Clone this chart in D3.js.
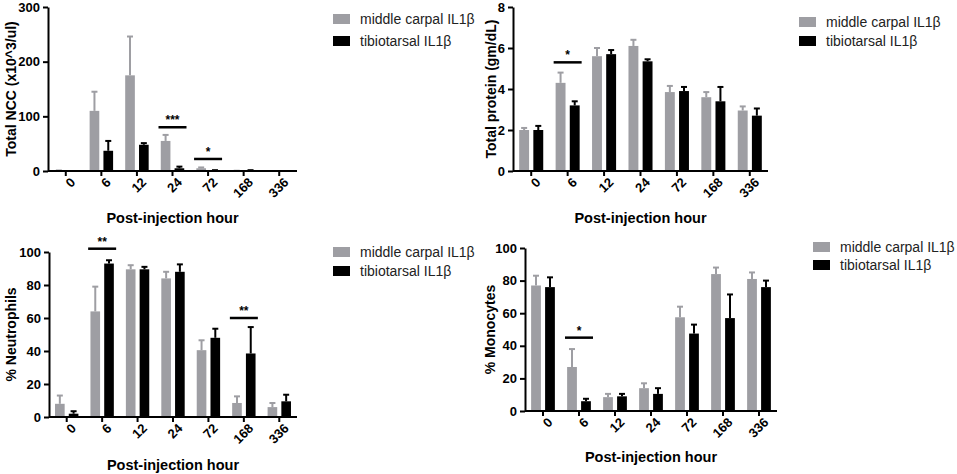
<!DOCTYPE html>
<html>
<head>
<meta charset="utf-8">
<script src="https://cdn.jsdelivr.net/npm/d3@7"></script>
<style>
  body { margin: 0; background: #fff; }
  svg { font-family: "Liberation Sans", Arial, sans-serif; }
  .tick text { font-weight: bold; font-size: 13px; fill: #000; }
  .axis path, .axis line { stroke: #000; stroke-width: 2px; }
</style>
</head>
<body>
<svg id="chart" width="957" height="474"></svg>
<script>
// categories
var hours = ["0", "6", "12", "24", "72", "168", "336"];
var groups = ["middle carpal IL1\u03b2", "tibiotarsal IL1\u03b2"];

// Total NCC (x10^3/ul)
var nccCarpal = [0.5, 110, 175, 55, 5, 0, 0];
var nccCarpalErr = [0.5, 35, 71, 11, 1.5, 0.5, 0];
var nccTibio = [0, 37, 48, 5, 1, 1, 0];
var nccTibioErr = [0, 18, 3, 3, 0.5, 0.5, 0];

// Total protein (gm/dL)
var protCarpal = [2.0, 4.3, 5.6, 6.1, 3.85, 3.6, 2.95];
var protCarpalErr = [0.1, 0.5, 0.4, 0.3, 0.3, 0.25, 0.2];
var protTibio = [2.0, 3.2, 5.7, 5.35, 3.9, 3.4, 2.7];
var protTibioErr = [0.2, 0.2, 0.2, 0.1, 0.2, 0.7, 0.35];

// % Neutrophils
var neuCarpal = [8, 64, 89.5, 84, 40.5, 8.5, 6];
var neuCarpalErr = [5, 15, 2.5, 4, 6, 4, 2.5];
var neuTibio = [2, 93, 89.5, 88, 48, 38.5, 9.5];
var neuTibioErr = [1.5, 2, 1.5, 4.5, 5.5, 16, 4];

// % Monocytes
var monCarpal = [77, 27, 8.5, 14, 57.5, 84, 81];
var monCarpalErr = [6, 11, 2, 3, 6.5, 4, 4];
var monTibio = [76, 6, 9, 10.5, 47.5, 57, 76];
var monTibioErr = [6, 1.5, 1.5, 3.5, 5.5, 14.5, 4];

// significance marks: category, height, label
var nccSig = [["24", 80, "***"], ["72", 22, "*"]];
var protSig = [["6", 5.3, "*"]];
var neuSig = [["6", 102, "**"], ["168", 60, "**"]];
var monSig = [["6", 45, "*"]];

// y ticks
var nccTicks = [0, 100, 200, 300];
var protTicks = [0, 2, 4, 6, 8];
var pctTicks = [0, 20, 40, 60, 80, 100];

var colors = ["#9e9ea3", "#000000"];
var svg = d3.select("#chart");

function drawPanel(p) {
  var g = svg.append("g");

  var x0 = d3.scaleBand().domain(hours).range([p.left, p.right]);
  var x1 = d3.scaleBand().domain([0, 1])
      .range([x0.bandwidth() * 0.17, x0.bandwidth() * 0.83])
      .paddingInner(0.3);
  var y = d3.scaleLinear().domain([0, p.max]).range([p.bottom, p.top]);

  // bars
  var series = [p.a, p.b];
  var errs = [p.aErr, p.bErr];
  series.forEach(function(vals, s) {
    var data = hours.map(function(h, i) { return {h: h, v: vals[i], e: errs[s][i]}; });

    // error bars (upper only)
    var eb = g.append("g").attr("stroke", colors[s]).attr("stroke-width", 2);
    eb.selectAll("line.v")
      .data(data.filter(function(d) { return d.e > 0; }))
      .enter().append("line")
        .attr("x1", function(d) { return x0(d.h) + x1(s) + x1.bandwidth() / 2; })
        .attr("x2", function(d) { return x0(d.h) + x1(s) + x1.bandwidth() / 2; })
        .attr("y1", function(d) { return y(d.v); })
        .attr("y2", function(d) { return y(d.v + d.e); });
    eb.selectAll("line.c")
      .data(data.filter(function(d) { return d.e > 0; }))
      .enter().append("line")
        .attr("x1", function(d) { return x0(d.h) + x1(s) + x1.bandwidth() / 2 - 3; })
        .attr("x2", function(d) { return x0(d.h) + x1(s) + x1.bandwidth() / 2 + 3; })
        .attr("y1", function(d) { return y(d.v + d.e); })
        .attr("y2", function(d) { return y(d.v + d.e); });

    g.append("g").selectAll("rect")
      .data(data)
      .enter().append("rect")
        .attr("x", function(d) { return x0(d.h) + x1(s); })
        .attr("width", x1.bandwidth())
        .attr("y", function(d) { return y(d.v); })
        .attr("height", function(d) { return p.bottom - y(d.v); })
        .attr("fill", colors[s]);
  });

  // axes
  g.append("g").attr("class", "axis")
    .attr("transform", "translate(" + p.left + ",0)")
    .call(d3.axisLeft(y).tickValues(p.ticks).tickSize(5).tickPadding(3).tickSizeOuter(0))
    .selectAll("text").style("font-size", "13px");

  var xa = g.append("g").attr("class", "axis")
    .attr("transform", "translate(0," + p.bottom + ")")
    .call(d3.axisBottom(x0).tickSize(5).tickSizeOuter(0));
  xa.selectAll("text")
    .attr("text-anchor", "end")
    .attr("dx", "-0.1em")
    .attr("dy", "0.6em")
    .attr("transform", "rotate(-45)");
  xa.select(".domain").attr("d", "M" + p.left + ",0H" + p.right);

  // significance
  p.sig.forEach(function(d) {
    var cx = x0(d[0]) + x0.bandwidth() / 2;
    g.append("line")
      .attr("x1", cx - 14).attr("x2", cx + 14)
      .attr("y1", y(d[1])).attr("y2", y(d[1]))
      .attr("stroke", "#000").attr("stroke-width", 2.5);
    g.append("text")
      .attr("x", cx).attr("y", y(d[1]) - 3)
      .attr("text-anchor", "middle")
      .style("font-size", "12px").style("font-weight", "bold")
      .text(d[2]);
  });

  // titles
  g.append("text")
    .attr("transform", "translate(" + p.ytx + "," + ((p.top + p.bottom) / 2) + ") rotate(-90)")
    .attr("text-anchor", "middle").attr("dy", "0.35em")
    .style("font-size", "14px").style("font-weight", "bold")
    .text(p.ytitle);
  g.append("text")
    .attr("x", (p.left + p.right) / 2).attr("y", p.xty)
    .attr("text-anchor", "middle").attr("dy", "0.35em")
    .style("font-size", "14.5px").style("font-weight", "bold")
    .text("Post-injection hour");

  // legend
  var lg = g.append("g").attr("transform", "translate(" + p.lx + "," + p.ly + ")");
  groups.forEach(function(name, i) {
    lg.append("rect").attr("x", 0).attr("y", i * p.lgap - 5)
      .attr("width", 17).attr("height", 10).attr("fill", colors[i]);
    lg.append("text").attr("x", 27).attr("y", i * p.lgap).attr("dy", "0.35em")
      .style("font-size", "14px").attr("fill", "#222").text(name);
  });
}

drawPanel({a: nccCarpal, aErr: nccCarpalErr, b: nccTibio, bErr: nccTibioErr, sig: nccSig,
  max: 300, ticks: nccTicks, ytitle: "Total NCC (x10^3/ul)",
  left: 48, right: 297, top: 7, bottom: 171, ytx: 11, xty: 218, lx: 333, ly: 19, lgap: 22});
drawPanel({a: protCarpal, aErr: protCarpalErr, b: protTibio, bErr: protTibioErr, sig: protSig,
  max: 8, ticks: protTicks, ytitle: "Total protein (gm/dL)",
  left: 513, right: 768, top: 7, bottom: 171, ytx: 491, xty: 218, lx: 799, ly: 22, lgap: 19});
drawPanel({a: neuCarpal, aErr: neuCarpalErr, b: neuTibio, bErr: neuTibioErr, sig: neuSig,
  max: 100, ticks: pctTicks, ytitle: "% Neutrophils",
  left: 49, right: 297, top: 252, bottom: 417, ytx: 11, xty: 465, lx: 333, ly: 252, lgap: 19});
drawPanel({a: monCarpal, aErr: monCarpalErr, b: monTibio, bErr: monTibioErr, sig: monSig,
  max: 100, ticks: pctTicks, ytitle: "% Monocytes",
  left: 525, right: 777, top: 248, bottom: 411, ytx: 490, xty: 457, lx: 813, ly: 247, lgap: 18});
</script>
</body>
</html>
